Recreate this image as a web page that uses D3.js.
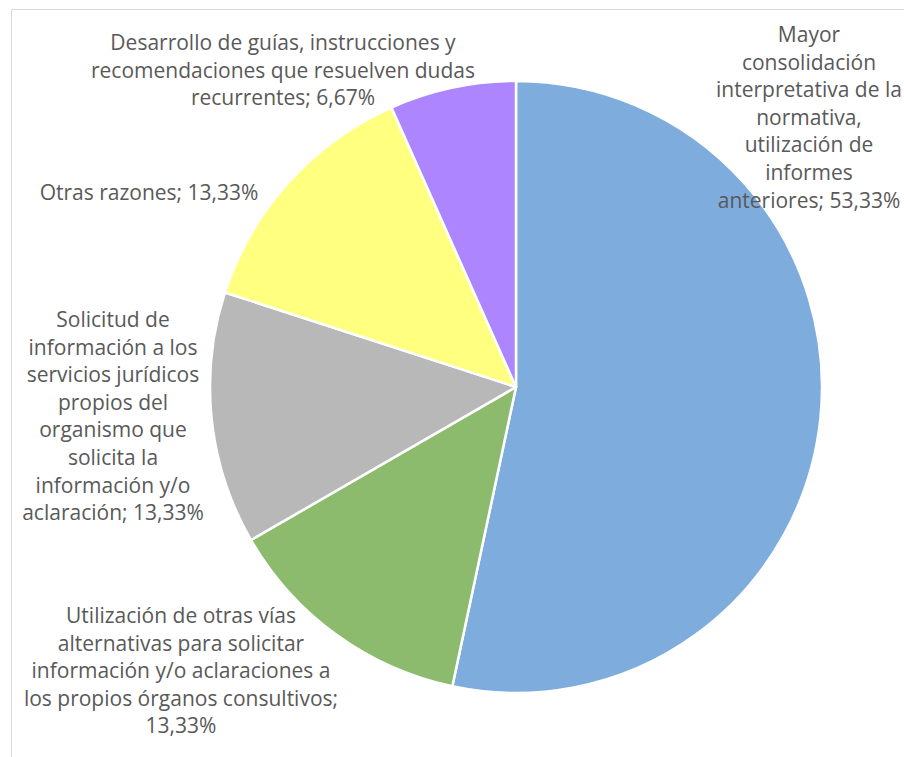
<!DOCTYPE html>
<html>
<head>
<meta charset="utf-8">
<script src="https://cdn.jsdelivr.net/npm/d3@7"></script>
<style>
    body { margin: 0; background: #ffffff; }
    svg { display: block; }
</style>
</head>
<body>
<div id="chart"></div>
<script>
// Slices, clockwise from 12 o'clock
const categories = [
    'Mayor consolidación interpretativa de la normativa, utilización de informes anteriores',
    'Utilización de otras vías alternativas para solicitar información y/o aclaraciones a los propios órganos consultivos',
    'Solicitud de información a los servicios jurídicos propios del organismo que solicita la información y/o aclaración',
    'Otras razones',
    'Desarrollo de guías, instrucciones y recomendaciones que resuelven dudas recurrentes'
];
const values = [53.33, 13.33, 13.33, 13.33, 6.67];
const valueLabels = ['53,33%', '13,33%', '13,33%', '13,33%', '6,67%'];
const colors = ['#7eacdc', '#8cbb6e', '#b8b8b8', '#ffff80', '#ad85ff'];

// Data label text as wrapped in the picture
const labelLines = [
    ['Mayor', 'consolidación', 'interpretativa de la', 'normativa,', 'utilización de', 'informes', 'anteriores; 53,33%'],
    ['Utilización de otras vías', 'alternativas para solicitar', 'información y/o aclaraciones a', 'los propios órganos consultivos;', '13,33%'],
    ['Solicitud de', 'información a los', 'servicios jurídicos', 'propios del', 'organismo que', 'solicita la', 'información y/o', 'aclaración; 13,33%'],
    ['Otras razones; 13,33%'],
    ['Desarrollo de guías, instrucciones y', 'recomendaciones que resuelven dudas', 'recurrentes; 6,67%']
];

const size = { width: 904, height: 757 };
const center = { x: 516, y: 387 };
const radius = 306;
const lineStep = 27.6;

// label block anchor: centre x and first baseline
const labelPos = [
    { x: 809, y: 42 },
    { x: 181, y: 623 },
    { x: 113, y: 327 },
    { x: 149, y: 200 },
    { x: 283, y: 50 }
];

const svg = d3.select('#chart')
    .append('svg')
    .attr('width', size.width)
    .attr('height', size.height);

// chart area border (runs off the right and bottom edges)
svg.append('rect')
    .attr('x', 11.5)
    .attr('y', 9.5)
    .attr('width', 1200)
    .attr('height', 1200)
    .style('fill', '#ffffff')
    .style('stroke', '#d9d9d9')
    .style('stroke-width', 1);

const pie = d3.pie().sort(null).value(d => d);
const arc = d3.arc().innerRadius(0).outerRadius(radius);

const pieContainer = svg.append('g')
    .attr('transform', 'translate(' + center.x + ',' + center.y + ')');

pieContainer.selectAll('path')
    .data(pie(values))
    .enter()
    .append('path')
    .attr('d', arc)
    .style('fill', (d, i) => colors[i])
    .style('stroke', '#ffffff')
    .style('stroke-width', 2.5)
    .style('stroke-linejoin', 'round');

const labelContainer = svg.append('g').attr('class', 'labelContainer');

labelLines.forEach((lines, i) => {
    const text = labelContainer.append('text')
        .attr('text-anchor', 'middle')
        .attr('font-family', '"Open Sans", Lato, sans-serif')
        .attr('font-size', '21px')
        .style('fill', '#595959');
    lines.forEach((line, j) => {
        text.append('tspan')
            .attr('x', labelPos[i].x)
            .attr('y', labelPos[i].y + j * lineStep)
            .text(line);
    });
});
</script>
</body>
</html>
